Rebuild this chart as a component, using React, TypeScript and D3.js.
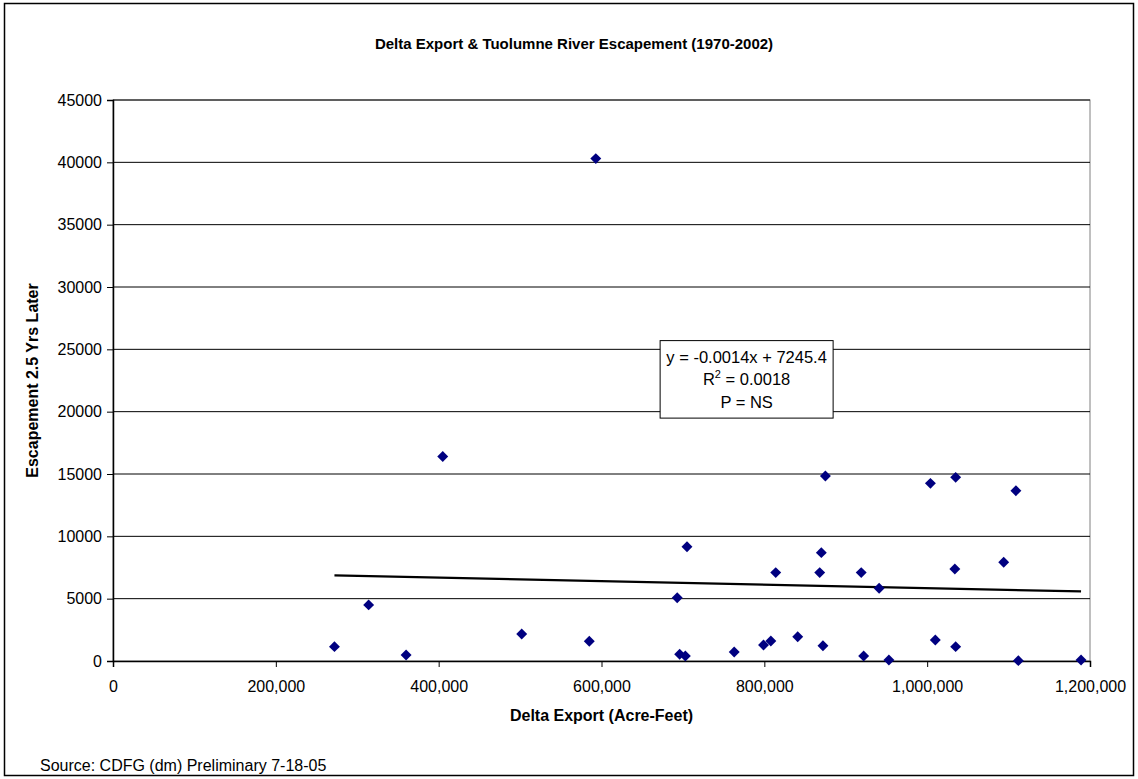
import React, { useRef, useEffect } from "react";
import * as d3 from "d3";

// Delta export (acre-feet) vs Tuolumne escapement 2.5 yrs later, 1970-2002
const deltaExport: number[] = [
  272000, 314000, 360000, 405000, 502000, 585000, 593000, 693000, 696000,
  703000, 705000, 763000, 799000, 808000, 841000, 814000, 868000, 870000,
  872000, 875000, 919000, 922000, 941000, 953000, 1004000, 1010000, 1034000,
  1035000, 1035000, 1094000, 1109000, 1112000, 1189000,
];
const escapement: number[] = [
  1150, 4500, 480, 16400, 2170, 1580, 40300, 5080, 540, 400, 9170, 720, 1280,
  1600, 1950, 7090, 7090, 8690, 1230, 14840, 7090, 400, 5830, 80, 14250, 1680,
  7380, 14730, 1150, 7920, 13660, 30, 80,
];

const yTicks: number[] = [0, 5000, 10000, 15000, 20000, 25000, 30000, 35000, 40000, 45000];
const xTicks: number[] = [0, 200000, 400000, 600000, 800000, 1000000, 1200000];

// trendline as reported on the chart
const slope = -0.0014;
const intercept = 7245.4;
const eqLines: string[] = ["y = -0.0014x + 7245.4", "R2 = 0.0018", "P = NS"];

const title = "Delta Export & Tuolumne River Escapement (1970-2002)";
const xTitle = "Delta Export (Acre-Feet)";
const yTitle = "Escapement 2.5 Yrs Later";
const source = "Source: CDFG (dm) Preliminary 7-18-05";

const App: React.FC = () => {
  const ref = useRef<SVGSVGElement>(null);
  const width = 1138;
  const height = 779;
  const margin = { top: 100, right: 48, bottom: 118, left: 113 };
  const innerWidth = width - margin.left - margin.right;
  const innerHeight = height - margin.top - margin.bottom;
  const font = "Arial, 'Liberation Sans', sans-serif";

  useEffect(() => {
    const svg = d3.select(ref.current);
    svg.selectAll("*").remove();
    svg.attr("width", width).attr("height", height);

    svg
      .append("rect")
      .attr("width", width)
      .attr("height", height)
      .attr("fill", "#fff");

    // outer chart border
    svg
      .append("rect")
      .attr("x", 4.5)
      .attr("y", 3.5)
      .attr("width", 1129)
      .attr("height", 772)
      .attr("fill", "none")
      .attr("stroke", "#000")
      .attr("stroke-width", 1.5);

    const xScale = d3.scaleLinear().domain([0, 1200000]).range([0, innerWidth]);
    const yScale = d3.scaleLinear().domain([0, 45000]).range([innerHeight, 0]);

    const g = svg
      .append("g")
      .attr("transform", `translate(${margin.left}, ${margin.top})`);

    // plot area frame
    g.append("rect")
      .attr("width", innerWidth)
      .attr("height", innerHeight)
      .attr("fill", "none")
      .attr("stroke", "#808080");

    // gridlines
    g.selectAll(".grid")
      .data(yTicks.filter((d) => d > 0))
      .enter()
      .append("line")
      .attr("class", "grid")
      .attr("x1", 0)
      .attr("x2", innerWidth)
      .attr("y1", (d) => yScale(d))
      .attr("y2", (d) => yScale(d))
      .attr("stroke", "#000")
      .attr("stroke-width", 1);

    const yAxis = d3
      .axisLeft(yScale)
      .tickValues(yTicks)
      .tickSize(6)
      .tickPadding(5)
      .tickFormat((d) => String(d));
    const yAxisGroup = g.append("g").call(yAxis);

    const xAxis = d3
      .axisBottom(xScale)
      .tickValues(xTicks)
      .tickSize(6)
      .tickPadding(14)
      .tickFormat((d) => d3.format(",")(d as number));
    const xAxisGroup = g
      .append("g")
      .attr("transform", `translate(0, ${innerHeight})`)
      .call(xAxis);

    [yAxisGroup, xAxisGroup].forEach((ax) => {
      ax.select(".domain").attr("stroke", "#000").attr("stroke-width", 1.5);
      ax.selectAll(".tick line").attr("stroke", "#000");
      ax.selectAll(".tick text")
        .attr("font-family", font)
        .attr("font-size", 16)
        .attr("fill", "#000");
    });

    // trendline
    const xr = d3.extent(deltaExport) as [number, number];
    const line = d3
      .line<number>()
      .x((d) => xScale(d))
      .y((d) => yScale(slope * d + intercept));
    g.append("path")
      .attr("d", line(xr) || "")
      .attr("fill", "none")
      .attr("stroke", "#000")
      .attr("stroke-width", 2.2);

    // diamonds
    const diamond = d3.symbol().type(d3.symbolDiamond2).size(76);
    g.selectAll(".pt")
      .data(deltaExport.map((x, i) => ({ x, y: escapement[i] })))
      .enter()
      .append("path")
      .attr("class", "pt")
      .attr("d", diamond() || "")
      .attr("transform", (d) => `translate(${xScale(d.x)}, ${yScale(d.y)})`)
      .attr("fill", "#000080");

    // equation label
    const box = g
      .append("g")
      .attr("transform", `translate(${xScale(672000)}, ${yScale(25700)})`);
    box
      .append("rect")
      .attr("width", 173)
      .attr("height", 77.5)
      .attr("fill", "#fff")
      .attr("stroke", "#000");
    eqLines.forEach((t, i) => {
      const txt = box
        .append("text")
        .attr("x", 86.5)
        .attr("y", 22 + i * 22.5)
        .attr("text-anchor", "middle")
        .attr("font-family", font)
        .attr("font-size", 16.5);
      if (t.startsWith("R2")) {
        txt.append("tspan").text("R");
        txt.append("tspan").attr("dy", -7).attr("font-size", 11).text("2");
        txt.append("tspan").attr("dy", 7).text(t.slice(2));
      } else {
        txt.text(t);
      }
    });

    // titles
    svg
      .append("text")
      .attr("x", 574)
      .attr("y", 49)
      .attr("text-anchor", "middle")
      .attr("font-family", font)
      .attr("font-weight", "bold")
      .attr("font-size", 15)
      .text(title);

    svg
      .append("text")
      .attr("x", margin.left + innerWidth / 2)
      .attr("y", 721)
      .attr("text-anchor", "middle")
      .attr("font-family", font)
      .attr("font-weight", "bold")
      .attr("font-size", 16)
      .text(xTitle);

    svg
      .append("text")
      .attr("transform", `translate(38, ${margin.top + innerHeight / 2}) rotate(-90)`)
      .attr("text-anchor", "middle")
      .attr("font-family", font)
      .attr("font-weight", "bold")
      .attr("font-size", 16)
      .text(yTitle);

    svg
      .append("text")
      .attr("x", 40)
      .attr("y", 771)
      .attr("font-family", font)
      .attr("font-size", 16)
      .text(source);
  });

  return (
    <svg
      ref={ref}
      style={{ position: "absolute", left: 0, top: 0, display: "block" }}
    ></svg>
  );
};

export default App;
